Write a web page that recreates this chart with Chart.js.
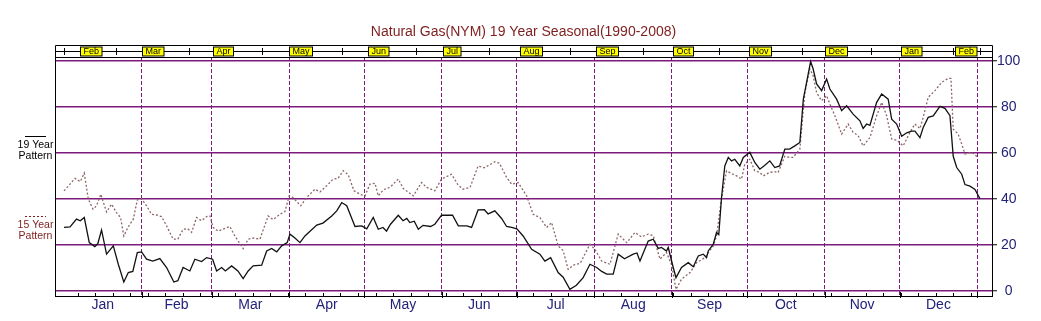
<!DOCTYPE html>
<html><head><meta charset="utf-8">
<script src="https://cdn.jsdelivr.net/npm/chart.js@4/dist/chart.umd.min.js"></script>
<style>html,body{margin:0;padding:0;background:#fff}#wrap{width:1041px;height:321px}</style>
</head><body><div id="wrap"><canvas id="c" width="1041" height="321"></canvas></div>
<script>
const titleText = 'Natural Gas(NYM) 19 Year Seasonal(1990-2008)';
const monthNames = ['Jan','Feb','Mar','Apr','May','Jun','Jul','Aug','Sep','Oct','Nov','Dec'];
const monthStarts = [0,31,59,90,120,151,181,212,243,273,304,334,365];
const yTicks = [0,20,40,60,80,100];
const stripLabels = ['Feb','Mar','Apr','May','Jun','Jul','Aug','Sep','Oct','Nov','Dec','Jan','Feb'];
const stripLabelDays = [6.4,31,59.6,89.9,121.5,151.4,182.2,212.6,243.4,273.7,304.1,334.5,356];
const stripTickDays = [0,20.7,49.9,79.1,111.1,140.7,169.9,202.3,231.5,261.8,295,322.6,355.4,366];
const legendLabels = ['19 Year Pattern','15 Year Pattern'];

const days19 = [0,2.4,5,6.5,8.1,10.1,12.3,13.5,15,17,19.7,21.7,23.9,25.7,27.5,29.3,31,33,35.5,38.3,41,43.9,45.5,47.6,50.3,52.3,55,57,59.4,61,63,64.5,67,69.5,71.6,73.6,75.6,79,81,83,85,87,89.2,90.3,92.3,94.3,96.3,101,103.5,107,109,111,113,116.3,119,121,123.6,125.6,127.5,128.9,130.5,133.6,135.5,137,138.2,140,141.6,143.5,146.5,148.2,150.9,155.3,157.6,161,162.9,165.5,168,169.5,172.2,174.9,176.9,178.9,181,183.5,186.9,190.2,192.2,194.5,197.5,199.5,202.2,204.8,207.5,210.2,212.9,214.9,216.9,219.5,221.5,224,227.5,229,230.2,233.5,235.5,237.5,238.8,240.8,241.5,243.5,244.6,246.8,249.5,251.5,253.5,255.5,256.8,257.5,259.5,260.8,261.7,262.8,264.1,265.5,266.8,268.1,270.1,271.5,274.1,276.1,278.1,280,282.1,284.1,286,288.1,290,292.1,294.1,295.5,296.8,298.4,299.4,300.8,302.8,304.8,306.1,308.8,310.8,312.8,315.4,318.1,319.4,320.8,322.1,324.8,326.8,329.4,330.8,332.8,334.8,336.8,338.8,340.1,342.1,343.4,345.4,347.4,350.1,352.1,354.1,355.4,356.8,358.8,360.1,362.1,364.1,366.1];
const values19 = [27.6,27.8,31.2,30.5,31.9,21,19.3,20.5,26.5,16,19.6,11.6,3.9,8,8.5,16.7,17,13.8,13,14.1,10.2,3.9,4.5,10.2,8.7,13.8,12.8,14.5,13.8,8.7,10.2,8.7,10.9,8.7,5.4,8.7,10.9,11.2,17.4,18.5,17,19.6,21,24.7,23,21,23.9,28.6,29.5,32.6,34.8,38.4,37,28,28.3,27,31.9,26.8,27.6,26,29,32.9,30.5,31.5,29.7,30.3,26.8,28.5,28,29,32.9,32.9,28.3,28.3,27.6,35.2,35.3,33.5,34.8,31.5,28,27.6,27,23.9,18.1,16,13,14.5,8,6,0.7,2.5,5.8,11.6,10.2,8.5,7.3,7.3,16,14,16,16.5,13,21.7,22.5,18.5,18.9,17.4,18.9,10.2,5.8,10.2,12.3,10.5,15.2,16,14.5,17.4,20.3,25.4,24.5,40.6,54.3,58,56.5,57.2,54.3,58,60.2,55.8,52.9,54.5,56.5,53.6,54.3,61.6,61.6,63,64.5,83.3,90.6,99.6,96.5,89.9,87,92,87.7,83.3,78.3,80.4,76.8,73.9,70.6,72.5,71.9,81.9,85.5,83.3,74.6,72.5,67.2,68.7,69.4,69.4,66.6,71,75.4,76,80.2,79.3,76.1,58.5,53.6,50.7,46.2,45.5,44.1,40];

const days15 = [0,2.4,4.4,6.5,8.1,9.7,11.6,13,14.7,17,19,21,22.6,23.9,25.5,27.7,29.3,31,33,35,37,39,41,43.6,45.5,47.6,49.5,51,53,55,57,58.3,59.6,61.6,63.5,66.3,68.3,71.6,73.6,75.8,78.3,81.6,83.5,86.3,88.3,90,91.5,94.6,97,100.3,102.3,105,107.6,109.5,111.6,113.6,115.9,118.3,120.3,122.3,124.3,125.6,127.7,130.3,133.6,135.6,139.6,142.9,144.9,148.2,150.9,154.9,157.5,159.5,162.3,165.5,168,172.2,174,176.9,178.9,181.5,184.9,187.5,190.2,192.9,194.9,197.5,199.5,201.5,203.5,206.3,210.2,212.2,214.9,218.2,221.5,224.9,228.2,230.8,233.5,235.5,238.2,240.8,242.8,244.6,246.8,250.2,252.8,256.2,257.5,259.5,260.8,262.8,264.8,266.8,268.8,270.8,272.1,274.1,276.1,278,279.5,282,284,285.4,288.1,290,291.4,294.1,296.1,298.1,299.4,300.8,302.8,304.8,306.1,308.1,310.8,313.4,315.4,317.4,319.4,322.1,324.8,326.8,328.8,330.8,332.8,335.4,338.1,340.1,342.1,343.4,345.4,348.1,350.8,353.4,354.5,355.4,357.4,358.8,360.1,362.8,365.4];
const values15 = [43.5,46.4,48.9,47.5,51.2,39.9,35.5,37,42,34.3,37.7,34,31.9,23.9,27.5,31.2,39.6,40,37,33.3,33,32.3,28.3,22.5,22.5,26.8,27,25.5,31.9,30.5,32.3,32.6,27.6,26,26.8,28,23.9,18.4,22.5,23,22.5,32.6,31,33.3,34.5,41.3,40.6,37,40.6,44.2,43,45.7,48.6,48.9,52.2,50.5,43.5,42,41.3,46.4,46.8,41.3,44,45,48.6,44.5,41.3,47.1,45,43.5,48.6,50.7,46,44.2,45,54.3,53.5,56.1,55.5,49.3,46.4,47.1,41.3,33.3,31.9,27.6,29.7,19.6,17.5,9.4,11.2,12,20.3,18.1,13,11.6,24.7,21,25.4,23.5,24.7,24,13.8,16.7,11.5,0.7,5.1,8,12.3,14.5,16.7,19.6,23.9,40,52.2,51,50,48.6,55.1,57.2,52.2,51.5,50,51.5,51.8,51.4,58.5,58,58,61.6,86.1,96.4,93.5,86.1,82.6,84.8,81.2,76.1,68.1,72.5,68.9,67.5,63,66.6,76.1,81.9,76.1,66,65.5,63,68.9,72.5,70.5,75.4,84.1,87,90.6,92.3,92.3,70.3,68.1,63.8,59.5,60.2,58];

const PURPLE = '#7d1a7d';
const NAVY = '#22227a';
const DARKRED = '#7e1e1e';
const SERIES15 = '#8e6666';
const FONT = "'Liberation Sans', Arial, sans-serif";
const midDays = monthStarts.slice(0,12).map((s,i)=> (s + monthStarts[i+1]) / 2);

const deco = {
  id: 'deco',
  afterDraw(chart) {
    const {ctx, chartArea: a, scales: {x}} = chart;
    const L = Math.round(a.left) + 0.5, R = Math.round(a.right) + 0.5;
    const stripTop = 45.5, stripBot = Math.round(a.top) + 0.5, stripMid = 51.5;
    const line = (x1,y1,x2,y2) => { ctx.beginPath(); ctx.moveTo(x1,y1); ctx.lineTo(x2,y2); ctx.stroke(); };
    ctx.save();
    ctx.strokeStyle = '#000'; ctx.lineWidth = 1; ctx.setLineDash([]);
    line(L, stripTop, L, a.bottom);
    line(R, stripTop, R, a.top);
    line(L, stripTop, R, stripTop);
    line(L, stripBot, R, stripBot);
    line(L, stripMid, R, stripMid);
    stripTickDays.forEach(d => { const px = Math.round(x.getPixelForValue(d)) + 0.5; if (px > L && px < R) line(px, 48, px, 55); });
    ctx.font = '9px ' + FONT; ctx.textBaseline = 'middle'; ctx.textAlign = 'left';
    stripLabels.forEach((t,i) => {
      const w = ctx.measureText(t).width + 6;
      let px = Math.round(x.getPixelForValue(stripLabelDays[i])) + 0.5;
      ctx.fillStyle = '#ffff00'; ctx.fillRect(px, 47, w, 9);
      ctx.strokeRect(px, 47, w, 9);
      ctx.fillStyle = '#000'; ctx.fillText(t, px + 3, 52);
    });
    for (let d = 5.5; d < 366; d += 7) {
      const px = Math.round(x.getPixelForValue(d)) + 0.5;
      line(px, a.bottom - 3, px, a.bottom);
    }
    monthStarts.slice(1).forEach(d => {
      const px = Math.round(x.getPixelForValue(d)) + 0.5;
      line(px, a.bottom - 4, px, a.bottom + 2);
    });
    ctx.font = '14px ' + FONT; ctx.fillStyle = DARKRED; ctx.textAlign = 'center'; ctx.textBaseline = 'middle';
    ctx.fillText(titleText, 523.5, 32);
    ctx.font = '10.5px ' + FONT;
    const ds = chart.data.datasets;
    const lg = [{y: 136, ds: ds[0], c: '#000', dash: []}, {y: 216, ds: ds[1], c: DARKRED, dash: [2,2]}];
    lg.forEach(o => {
      ctx.strokeStyle = o.c; ctx.lineWidth = 1; ctx.setLineDash(o.dash);
      line(25, o.y + 0.5, 46, o.y + 0.5);
      ctx.setLineDash([]);
      const parts = o.ds.label.split(' ');
      ctx.fillStyle = o.c;
      ctx.fillText(parts[0] + ' ' + parts[1], 35.5, o.y + 9.5);
      ctx.fillText(parts[2], 35.5, o.y + 20);
    });
    ctx.restore();
  }
};

new Chart(document.getElementById('c'), {
  type: 'line',
  data: { datasets: [
    { label: legendLabels[0], data: days19.map((d,i)=>({x:d, y:values19[i]})), borderColor: '#111', borderWidth: 1.3, pointRadius: 0, tension: 0, fill: false },
    { label: legendLabels[1], data: days15.map((d,i)=>({x:d, y:values15[i]})), borderColor: SERIES15, borderWidth: 1.3, borderDash: [2,2], pointRadius: 0, tension: 0, fill: false }
  ]},
  options: {
    responsive: false, animation: false, devicePixelRatio: 1,
    layout: { padding: { left: 55, top: 57, right: 0, bottom: 0 } },
    plugins: { legend: { display: false }, title: { display: false }, tooltip: { enabled: false } },
    scales: {
      x: {
        type: 'linear', position: 'bottom', min: -3.6, max: 370.9,
        afterBuildTicks: s => { s.ticks = monthStarts.slice(1).map(v=>({value:v})).concat(midDays.map(v=>({value:v}))); },
        afterFit: s => { s.height = 25; },
        ticks: { autoSkip: false, maxRotation: 0, minRotation: 0, padding: 2, color: NAVY,
          font: { family: FONT, size: 14, lineHeight: 1 },
          callback: v => { const i = midDays.indexOf(v); return i >= 0 ? monthNames[i] : ''; } },
        grid: { drawTicks: false, lineWidth: 1, color: c => (c.tick && monthStarts.includes(c.tick.value)) ? PURPLE : 'rgba(0,0,0,0)' },
        border: { display: true, color: '#000', width: 1, dash: [4,2] }
      },
      y: {
        position: 'right', min: -2.17, max: 101.6,
        afterBuildTicks: s => { s.ticks = yTicks.map(v=>({value:v})); },
        afterFit: s => { s.width = 49; },
        ticks: { padding: 0, crossAlign: 'center', color: NAVY, font: { family: FONT, size: 14 } },
        grid: { color: PURPLE, lineWidth: 1.5, tickLength: 5, tickColor: '#000', tickWidth: 1 },
        border: { display: true, color: '#000', width: 1 }
      }
    }
  },
  plugins: [deco]
});
</script>
</body></html>
